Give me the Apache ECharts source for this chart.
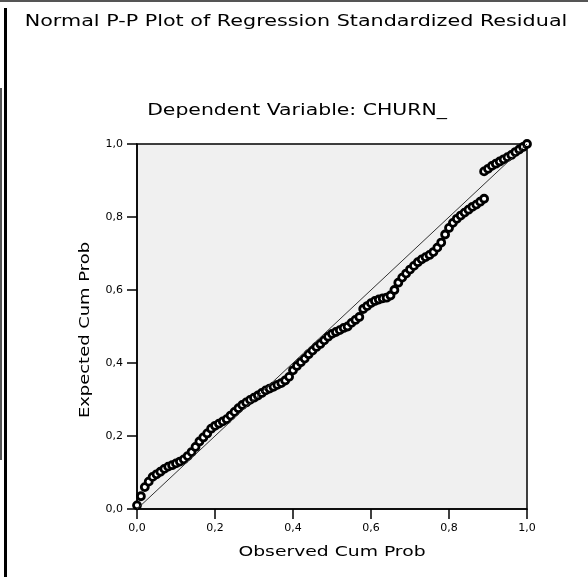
<!DOCTYPE html>
<html>
<head>
<meta charset="utf-8">
<script src="https://cdn.jsdelivr.net/npm/echarts@6/dist/echarts.min.js"></script>
<style>
html,body{margin:0;padding:0;background:#fff;}
#c{width:588px;height:577px;}
</style>
</head>
<body>
<div id="c"></div>
<script>
// Observed cumulative probability (x) and expected cumulative probability (y)
var observed = [
0.00,0.01,0.02,0.03,0.04,0.05,0.06,0.07,0.08,0.09,
0.10,0.11,0.12,0.13,0.14,0.15,0.16,0.17,0.18,0.19,
0.20,0.21,0.22,0.23,0.24,0.25,0.26,0.27,0.28,0.29,
0.30,0.31,0.32,0.33,0.34,0.35,0.36,0.37,0.38,0.39,
0.40,0.41,0.42,0.43,0.44,0.45,0.46,0.47,0.48,0.49,
0.50,0.51,0.52,0.53,0.54,0.55,0.56,0.57,0.58,0.59,
0.60,0.61,0.62,0.63,0.64,0.65,0.66,0.67,0.68,0.69,
0.70,0.71,0.72,0.73,0.74,0.75,0.76,0.77,0.78,0.79,
0.80,0.81,0.82,0.83,0.84,0.85,0.86,0.87,0.88,0.89,
0.89,0.90,0.91,0.92,0.93,0.94,0.95,0.96,0.97,0.98,0.99,1.00
];
var expected = [
0.010,0.035,0.060,0.075,0.088,0.095,0.102,0.110,0.116,0.120,
0.125,0.130,0.136,0.145,0.156,0.170,0.185,0.196,0.207,0.220,
0.228,0.234,0.240,0.246,0.256,0.266,0.276,0.285,0.292,0.299,
0.305,0.311,0.318,0.325,0.330,0.335,0.340,0.345,0.352,0.362,
0.380,0.392,0.402,0.412,0.424,0.434,0.444,0.452,0.462,0.472,
0.480,0.485,0.490,0.496,0.500,0.510,0.518,0.526,0.548,0.556,
0.564,0.570,0.574,0.577,0.579,0.585,0.600,0.620,0.634,0.645,
0.656,0.666,0.676,0.684,0.690,0.696,0.704,0.716,0.730,0.752,
0.770,0.784,0.795,0.804,0.812,0.820,0.828,0.834,0.842,0.850,
0.925,0.932,0.940,0.946,0.952,0.958,0.964,0.970,0.978,0.985,0.992,1.000
];
// Reference diagonal
var refX = [0, 1];
var refY = [0, 1];

var titleText = 'Normal P-P Plot of Regression Standardized Residual';
var subtitleText = 'Dependent Variable: CHURN_';
var xName = 'Observed Cum Prob';
var yName = 'Expected Cum Prob';

var pts = observed.map(function (v, i) { return [v, expected[i]]; });
var refPts = refX.map(function (v, i) { return [v, refY[i]]; });

var FONT = 'DejaVu Sans';
function fmt(v) { return v.toFixed(1).replace('.', ','); }
function label(txt, x, y, size, sx, rot) {
  return {type: 'text', x: x, y: y, scaleX: sx, scaleY: 1, rotation: rot || 0,
    style: {text: txt, font: size + 'px "' + FONT + '"', fill: '#000',
            align: 'center', verticalAlign: 'middle',
            textAlign: 'center', textVerticalAlign: 'middle'}};
}

var chart = echarts.init(document.getElementById('c'), null, {renderer: 'canvas'});
chart.setOption({
  animation: false,
  backgroundColor: '#ffffff',
  graphic: [
    {type: 'line', shape: {x1: 0, y1: 1, x2: 588, y2: 1}, style: {stroke: '#555', lineWidth: 2}},
    {type: 'line', shape: {x1: 5.5, y1: 8, x2: 5.5, y2: 577}, style: {stroke: '#000', lineWidth: 3}},
    {type: 'line', shape: {x1: 1, y1: 88, x2: 1, y2: 460}, style: {stroke: '#555', lineWidth: 2}},
    label(titleText, 296, 22, 15, 1.38),
    label(subtitleText, 297, 111, 15, 1.36),
    label(xName, 332, 552, 14, 1.34),
    label(yName, 85, 330, 14, 1.28, Math.PI / 2)
  ],
  grid: {left: 137, top: 144, right: 61, bottom: 68, show: true,
         backgroundColor: '#f0f0f0', borderColor: '#000', borderWidth: 1.5},
  xAxis: {
    type: 'value', min: 0, max: 1, interval: 0.2,
    axisLine: {lineStyle: {color: '#000', width: 1.5}},
    axisTick: {inside: false, length: 10, lineStyle: {color: '#000', width: 1.5}},
    axisLabel: {margin: 14, fontFamily: FONT, fontSize: 11, color: '#000', formatter: fmt},
    splitLine: {show: false}
  },
  yAxis: {
    type: 'value', min: 0, max: 1, interval: 0.2,
    axisLine: {lineStyle: {color: '#000', width: 1.5}},
    axisTick: {inside: false, length: 10, lineStyle: {color: '#000', width: 1.5}},
    axisLabel: {margin: 14, fontFamily: FONT, fontSize: 11, color: '#000', formatter: fmt},
    splitLine: {show: false}
  },
  series: [
    {type: 'line', data: refPts, symbol: 'none', silent: true,
     lineStyle: {color: '#333', width: 1}, z: 3},
    {type: 'scatter', data: pts, symbol: 'circle', symbolSize: 7,
     itemStyle: {color: '#ffffff', borderColor: '#000', borderWidth: 2.8, opacity: 1}, z: 2}
  ]
});
</script>
</body>
</html>
